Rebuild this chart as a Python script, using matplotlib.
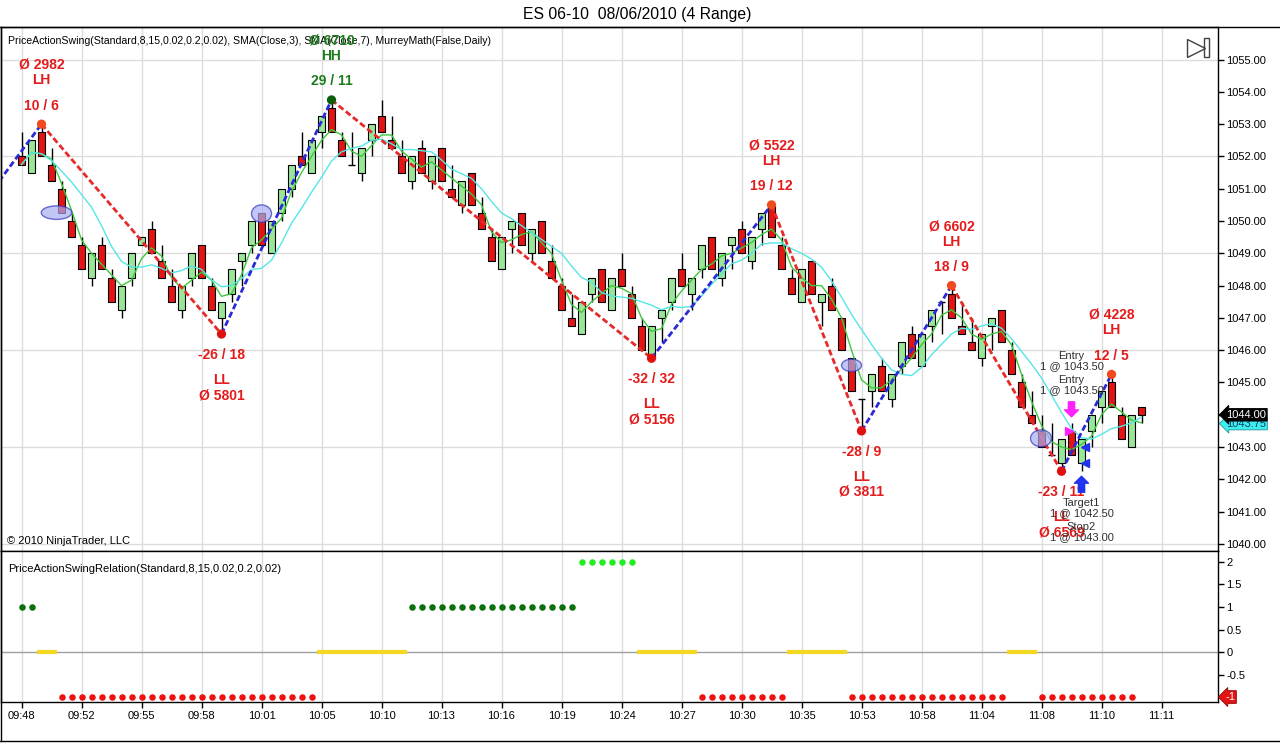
import matplotlib
matplotlib.use("Agg")
import matplotlib.pyplot as plt
import numpy as np
import pandas as pd
from matplotlib.patches import Ellipse, Rectangle
from matplotlib.lines import Line2D

plt.rcParams['font.family'] = ['Liberation Sans', 'DejaVu Sans']

# 4-range bars, ES 06-10, 08/06/2010
opens = [1052.00, 1051.50, 1052.75, 1051.75, 1051.00, 1050.00, 1049.25, 1048.25, 1049.25, 1048.25,
         1047.25, 1048.25, 1049.25, 1049.75, 1048.75, 1048.00, 1047.25, 1048.25, 1049.25, 1048.00,
         1047.00, 1047.75, 1048.75, 1049.25, 1050.25, 1049.00, 1050.25, 1051.00, 1052.00, 1051.50,
         1052.75, 1053.50, 1052.50, 1051.75, 1051.50, 1052.50, 1053.25, 1052.50, 1052.00, 1051.25,
         1052.25, 1051.25, 1052.25, 1051.00, 1050.50, 1051.50, 1050.25, 1049.50, 1048.50, 1049.75,
         1050.25, 1049.00, 1050.00, 1048.75, 1048.00, 1047.00, 1046.50, 1047.75, 1048.50, 1047.25,
         1048.50, 1047.75, 1046.75, 1045.75, 1047.00, 1047.50, 1048.50, 1047.75, 1048.50, 1049.50,
         1048.25, 1049.25, 1049.75, 1048.75, 1049.75, 1050.50, 1049.25, 1048.25, 1047.50, 1048.75,
         1047.50, 1048.00, 1047.00, 1045.75, 1044.50, 1044.75, 1045.50, 1044.50, 1045.50, 1046.50,
         1045.50, 1046.75, 1047.50, 1047.75, 1046.75, 1046.25, 1045.75, 1046.75, 1047.25, 1046.00,
         1045.00, 1044.00, 1043.50, 1042.75, 1042.50, 1043.50, 1042.50, 1043.50, 1044.25, 1045.00,
         1044.00, 1043.00, 1044.25]
highs = [1052.75, 1052.50, 1053.00, 1052.25, 1051.25, 1050.25, 1049.50, 1049.00, 1049.50, 1048.50,
         1048.00, 1049.00, 1049.50, 1050.00, 1049.25, 1048.50, 1048.00, 1049.00, 1049.25, 1048.25,
         1047.50, 1048.50, 1049.00, 1050.00, 1050.25, 1050.00, 1051.00, 1051.75, 1052.75, 1052.50,
         1053.25, 1053.75, 1052.75, 1052.75, 1052.25, 1053.00, 1053.75, 1053.25, 1052.50, 1052.00,
         1052.50, 1052.00, 1052.25, 1051.75, 1051.25, 1051.50, 1050.75, 1049.75, 1049.50, 1050.00,
         1050.25, 1049.75, 1050.00, 1049.25, 1048.25, 1047.75, 1047.50, 1048.25, 1048.50, 1048.25,
         1049.00, 1048.00, 1047.00, 1046.75, 1047.25, 1048.25, 1049.00, 1048.25, 1049.25, 1049.50,
         1049.00, 1049.50, 1050.00, 1049.50, 1050.25, 1050.50, 1049.50, 1048.50, 1048.50, 1048.75,
         1047.75, 1048.25, 1047.00, 1045.75, 1044.50, 1045.25, 1045.75, 1045.25, 1046.25, 1046.75,
         1046.50, 1047.25, 1047.50, 1048.00, 1047.50, 1047.00, 1046.50, 1047.00, 1047.25, 1046.25,
         1045.25, 1044.75, 1044.00, 1043.75, 1043.25, 1043.75, 1043.25, 1044.00, 1044.75, 1045.25,
         1044.25, 1044.00, 1044.25]
lows = [1051.75, 1051.50, 1052.00, 1051.25, 1050.25, 1049.50, 1048.50, 1048.00, 1048.50, 1047.50,
        1047.00, 1048.00, 1049.25, 1049.00, 1048.25, 1047.50, 1047.00, 1048.00, 1048.25, 1047.25,
        1046.50, 1047.50, 1048.00, 1049.00, 1049.25, 1049.00, 1050.00, 1050.75, 1051.75, 1051.50,
        1052.25, 1052.75, 1052.00, 1051.75, 1051.25, 1052.00, 1052.75, 1052.25, 1051.50, 1051.00,
        1051.50, 1051.00, 1051.25, 1050.75, 1050.25, 1050.50, 1049.75, 1048.75, 1048.50, 1049.00,
        1049.25, 1048.75, 1049.00, 1048.25, 1047.25, 1046.75, 1046.50, 1047.50, 1047.50, 1047.25,
        1048.00, 1047.00, 1046.00, 1045.75, 1046.25, 1047.25, 1048.00, 1047.25, 1048.25, 1048.50,
        1048.00, 1048.50, 1049.00, 1048.50, 1049.25, 1049.50, 1048.50, 1047.75, 1047.50, 1047.75,
        1046.75, 1047.25, 1046.00, 1044.75, 1043.50, 1044.25, 1044.75, 1044.25, 1045.25, 1045.75,
        1045.50, 1046.25, 1046.50, 1047.00, 1046.50, 1046.00, 1045.50, 1046.00, 1046.25, 1045.25,
        1044.25, 1043.75, 1043.00, 1042.75, 1042.25, 1042.75, 1042.25, 1043.00, 1043.75, 1044.25,
        1043.25, 1043.00, 1043.75]
closes = [1051.75, 1052.50, 1052.00, 1051.25, 1050.25, 1049.50, 1048.50, 1049.00, 1048.50, 1047.50,
          1048.00, 1049.00, 1049.50, 1049.00, 1048.25, 1047.50, 1048.00, 1049.00, 1048.25, 1047.25,
          1047.50, 1048.50, 1049.00, 1050.00, 1049.25, 1050.00, 1051.00, 1051.75, 1051.75, 1052.50,
          1053.25, 1052.75, 1052.00, 1051.75, 1052.25, 1053.00, 1052.75, 1052.25, 1051.50, 1052.00,
          1051.50, 1052.00, 1051.25, 1050.75, 1051.25, 1050.50, 1049.75, 1048.75, 1049.50, 1050.00,
          1049.25, 1049.75, 1049.00, 1048.25, 1047.25, 1046.75, 1047.50, 1048.25, 1047.50, 1048.25,
          1048.00, 1047.00, 1046.00, 1046.75, 1047.25, 1048.25, 1048.00, 1048.25, 1049.25, 1048.50,
          1049.00, 1049.50, 1049.00, 1049.50, 1050.25, 1049.50, 1048.50, 1047.75, 1048.50, 1047.75,
          1047.75, 1047.25, 1046.00, 1044.75, 1044.50, 1045.25, 1044.75, 1045.25, 1046.25, 1045.75,
          1046.50, 1047.25, 1047.50, 1047.00, 1046.50, 1046.00, 1046.50, 1047.00, 1046.25, 1045.25,
          1044.25, 1043.75, 1043.00, 1042.75, 1043.25, 1042.75, 1043.25, 1044.00, 1044.75, 1044.25,
          1043.25, 1044.00, 1044.00]

time_labels = ["09:48", "09:52", "09:55", "09:58", "10:01", "10:05", "10:10", "10:13", "10:16", "10:19",
               "10:24", "10:27", "10:30", "10:35", "10:53", "10:58", "11:04", "11:08", "11:10", "11:11"]

# swing points (bar index, price) and their labels
prior_low = (-4, 1050.5)
swing_bars = [2, 20, 31, 63, 75, 84, 93, 104, 109]
swing_prices = [1053.0, 1046.5, 1053.75, 1045.75, 1050.5, 1043.5, 1048.0, 1042.25, 1045.25]
swing_len = ["10 / 6", "-26 / 18", "29 / 11", "-32 / 32", "19 / 12", "-28 / 9", "18 / 9", "-23 / 11", "12 / 5"]
swing_type = ["LH", "LL", "HH", "LL", "LH", "LL", "LH", "LL", "LH"]
swing_vol = ["Ø 2982", "Ø 5801", "Ø 6710", "Ø 5156", "Ø 5522", "Ø 3811", "Ø 6602", "Ø 6569", "Ø 4228"]

# PriceActionSwingRelation values per bar
relation = [1, 1, 0, 0,
            -1, -1, -1, -1, -1, -1, -1, -1, -1, -1, -1, -1, -1, -1, -1, -1, -1, -1, -1, -1, -1, -1, -1, -1, -1, -1,
            0, 0, 0, 0, 0, 0, 0, 0, 0,
            1, 1, 1, 1, 1, 1, 1, 1, 1, 1, 1, 1, 1, 1, 1, 1, 1,
            2, 2, 2, 2, 2, 2,
            0, 0, 0, 0, 0, 0,
            -1, -1, -1, -1, -1, -1, -1, -1, -1,
            0, 0, 0, 0, 0, 0,
            -1, -1, -1, -1, -1, -1, -1, -1, -1, -1, -1, -1, -1, -1, -1, -1,
            0, 0, 0,
            -1, -1, -1, -1, -1, -1, -1, -1, -1, -1]

W, H = 1280, 746
def fx(px):
    return px / W
def fy(py):
    return 1 - py / H

fig = plt.figure(figsize=(12.8, 7.46), dpi=100)
ax = fig.add_axes([fx(1), fy(551), fx(1218) - fx(1), fy(27.3) - fy(551)])
ax2 = fig.add_axes([fx(1), fy(701.7), fx(1218) - fx(1), fy(551) - fy(701.7)], sharex=ax)

o = np.array(opens); hi = np.array(highs); lo = np.array(lows); c = np.array(closes)
x = np.arange(len(c))
up = c > o
dn = c < o
dj = c == o

ax.set_xlim(-2.05, 119.65)
ax.set_ylim(1039.78, 1056.0)
ticks = np.arange(0, 115, 6)

# grid
for v in range(1040, 1056, 3):
    ax.axhline(v, color='#dcdcdc', lw=1, zorder=0)
for t in ticks:
    ax.axvline(t, color='#dcdcdc', lw=1, zorder=0)
    ax2.axvline(t, color='#dcdcdc', lw=1, zorder=0)

# candles
ax.vlines(x, lo, hi, color='black', lw=1, zorder=3)
ax.bar(x[up], (c - o)[up], bottom=o[up], width=0.64, color='#99e699', edgecolor='black', lw=0.8, zorder=4)
ax.bar(x[dn], (o - c)[dn], bottom=c[dn], width=0.64, color='#e41414', edgecolor='black', lw=0.8, zorder=4)
ax.hlines(c[dj], x[dj] - 0.32, x[dj] + 0.32, color='black', lw=1, zorder=4)

# SMAs
sma3 = pd.Series(c).rolling(3, min_periods=1).mean()
sma7 = pd.Series(c).rolling(7, min_periods=1).mean()
ax.plot(x, sma3, color='#3cc83c', lw=1, zorder=5)
ax.plot(x, sma7, color='#55e6e6', lw=1, zorder=5)

# swing lines
pts_x = [prior_low[0]] + swing_bars
pts_y = [prior_low[1]] + swing_prices
for i in range(len(pts_x) - 1):
    col = '#2a2ad8' if pts_y[i + 1] > pts_y[i] else '#e62a2a'
    ax.plot(pts_x[i:i + 2], pts_y[i:i + 2], color=col, lw=2, dashes=(2.2, 1.1), zorder=6)

dot_cols = {'LH': '#f04a1e', 'LL': '#e01010', 'HH': '#0e5e0e'}
ax.scatter(swing_bars, swing_prices, s=32, c=[dot_cols[t] for t in swing_type], zorder=7)

for b, p, ln, tp, vol in zip(swing_bars, swing_prices, swing_len, swing_type, swing_vol):
    col = '#1c7c1c' if tp == 'HH' else '#e41b1b'
    offs = [18.5, 44, 59.5] if tp in ('LH', 'HH') else [-21, -46, -61]
    for txt, off in zip([ln, tp, vol], offs):
        ax.annotate(txt, (b, p), xytext=(0, off), textcoords='offset pixels', ha='center', va='center',
                    fontsize=10, fontweight='bold', color=col, zorder=9)

# highlighted bars
for cx, cy, w, h in [(3.5, 1050.26, 3.05, 0.42), (24.0, 1050.23, 2.0, 0.54),
                     (83.0, 1045.53, 2.0, 0.38), (101.95, 1043.27, 2.1, 0.52)]:
    ax.add_patch(Ellipse((cx, cy), w, h, facecolor='#a8aef2', edgecolor='#3434c4', lw=1, alpha=0.7, zorder=8))

# executions
ppx = (1056.0 - 1039.78) / 523.7
ax.annotate('Entry\n1 @ 1043.50', (105, highs[105]), xytext=(0, 62), textcoords='offset pixels',
            ha='center', va='center', fontsize=8, color='#303030', linespacing=1.0, zorder=9)
ax.annotate('Entry\n1 @ 1043.50', (105, highs[105]), xytext=(0, 38), textcoords='offset pixels',
            ha='center', va='center', fontsize=8, color='#303030', linespacing=1.0, zorder=9)
ax.annotate('Target1\n1 @ 1042.50', (106, lows[106]), xytext=(0, -37), textcoords='offset pixels',
            ha='center', va='center', fontsize=8, color='#303030', linespacing=1.0, zorder=9)
ax.annotate('Stop2\n1 @ 1043.00', (106, lows[106]), xytext=(0, -61), textcoords='offset pixels',
            ha='center', va='center', fontsize=8, color='#303030', linespacing=1.0, zorder=9)
ax.annotate('', xy=(105, highs[105] + 6 * ppx), xytext=(105, highs[105] + 21 * ppx),
            arrowprops=dict(arrowstyle='simple,head_length=0.5,head_width=1.0,tail_width=0.45',
                            color='#ff22ff', shrinkA=0, shrinkB=0, mutation_scale=10), zorder=9)
ax.annotate('', xy=(106, lows[106] - 5 * ppx), xytext=(106, lows[106] - 21 * ppx),
            arrowprops=dict(arrowstyle='simple,head_length=0.5,head_width=1.0,tail_width=0.45',
                            color='#2233ee', shrinkA=0, shrinkB=0, mutation_scale=10), zorder=9)
ax.plot([104.75], [1043.5], marker='>', ms=6, color='#ff22ff', zorder=9)
ax.plot([106.3, 106.3], [1043.0, 1042.5], marker='<', ms=6, ls='none', color='#2233ee', zorder=9)

# texts in main panel
ax.text(0.0058, 0.9738, 'PriceActionSwing(Standard,8,15,0.02,0.2,0.02), SMA(Close,3), SMA(Close,7), MurreyMath(False,Daily)',
        transform=ax.transAxes, fontsize=7.6, va='center', ha='left', zorder=8)
ax.text(0.005, 0.019, '© 2010 NinjaTrader, LLC', transform=ax.transAxes, fontsize=8, va='center', ha='left')
ax.plot([0.9819], [0.9614], marker='>', ms=13, mfc='white', mec='#404040', mew=1,
        transform=ax.transAxes, clip_on=False, zorder=10)
ax.add_patch(Rectangle((0.9885, 0.9433), 0.0041, 0.0363, transform=ax.transAxes, fill=False,
                       ec='#404040', lw=1, clip_on=False, zorder=10))

# price axis
ax.yaxis.tick_right()
ax.set_yticks(np.arange(1040, 1056))
ax.set_yticklabels([f'{v:.2f}' for v in range(1040, 1056)])
ax.tick_params(axis='y', direction='out', length=4, width=1, pad=2, labelsize=8)
ax.tick_params(axis='x', bottom=False, labelbottom=False)
for s in ax.spines.values():
    s.set_linewidth(1)
    s.set_color('black')

ytr = ax.get_yaxis_transform()
ax.annotate('1043.75', (1, sma7.iloc[-1] - 0.2), xycoords=ytr, xytext=(8, 0), textcoords='offset pixels',
            ha='left', va='center', fontsize=8, color='#10406a', annotation_clip=False, zorder=10,
            bbox=dict(boxstyle='larrow,pad=0.12', fc='#3cf0f0', ec='#209090', lw=0.6))
ax.annotate('1044.00', (1, closes[-1]), xycoords=ytr, xytext=(8, 0), textcoords='offset pixels',
            ha='left', va='center', fontsize=8, color='white', annotation_clip=False, zorder=11,
            bbox=dict(boxstyle='larrow,pad=0.12', fc='black', ec='black', lw=0.6))

# relation panel
rel = np.array(relation)
rx = np.arange(len(rel))
ax2.set_ylim(-1.104, 2.244)
ax2.axhline(0, color='#a0a0a0', lw=1, zorder=1)
rel_cols = {1: '#0a700a', 2: '#22ee22', -1: '#ee1111'}
for val, col in rel_cols.items():
    m = rel == val
    ax2.scatter(rx[m], rel[m], s=22, color=col, zorder=3, linewidths=0)
# zero runs drawn as yellow segments
start = None
for i in range(len(rel) + 1):
    z = i < len(rel) and rel[i] == 0
    if z and start is None:
        start = i
    if not z and start is not None:
        ax2.hlines(0, start - 0.5, i - 0.5, color='#f2d820', lw=3, zorder=2)
        start = None

ax2.yaxis.tick_right()
ax2.set_yticks([-0.5, 0, 0.5, 1, 1.5, 2])
ax2.set_yticklabels(['-0.5', '0', '0.5', '1', '1.5', '2'])
ax2.tick_params(axis='y', direction='out', length=4, width=1, pad=2, labelsize=8)
ax2.set_xticks(ticks)
ax2.set_xticklabels(time_labels)
ax2.tick_params(axis='x', direction='out', length=4, width=1, pad=3, labelsize=8)
for s in ax2.spines.values():
    s.set_linewidth(1)
    s.set_color('black')
ax2.text(0.0058, 0.8806, 'PriceActionSwingRelation(Standard,8,15,0.02,0.2,0.02)', transform=ax2.transAxes,
         fontsize=8, va='center', ha='left')
ax2.annotate('-1', (1, rel[-1]), xycoords=ax2.get_yaxis_transform(), xytext=(7, 0), textcoords='offset pixels',
             ha='left', va='center', fontsize=8, color='white', annotation_clip=False, zorder=10,
             bbox=dict(boxstyle='larrow,pad=0.12', fc='#e41414', ec='#900000', lw=0.6))

# frame and title
fig.add_artist(Line2D([0, 1], [fy(27), fy(27)], color='black', lw=1))
fig.add_artist(Line2D([fx(1), fx(1)], [fy(27), fy(741)], color='black', lw=1))
fig.add_artist(Line2D([0, 1], [fy(741), fy(741)], color='black', lw=1))
fig.text(fx(637), fy(14), 'ES 06-10  08/06/2010 (4 Range)', ha='center', va='center', fontsize=11.3)

fig.savefig('out.png', dpi=100)
